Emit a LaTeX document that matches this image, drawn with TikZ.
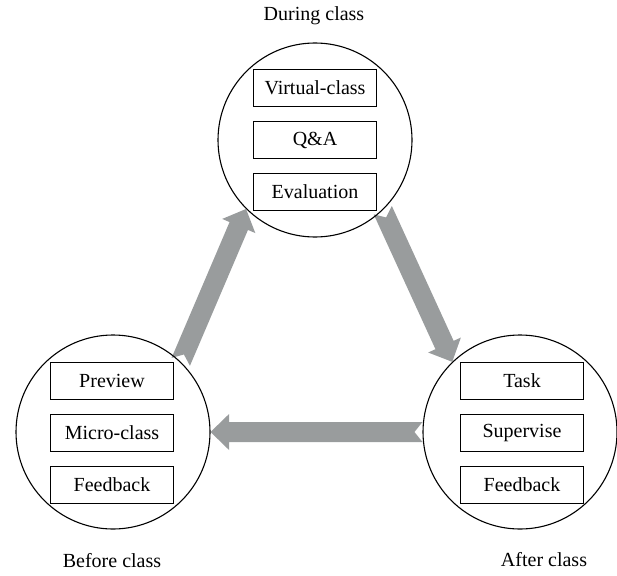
\documentclass[tikz,border=0pt]{standalone}
\usepackage{fontspec}
\setmainfont{Liberation Serif}
\usetikzlibrary{calc}
\definecolor{arrgray}{RGB}{153,156,157}
\pgfdeclarelayer{bg}
\pgfsetlayers{bg,main}
\tikzset{
 stage/.style={circle,draw,line width=1.1pt,minimum size=194pt,inner sep=0pt},
 item/.style={draw,line width=0.9pt,minimum width=123pt,minimum height=37pt,inner sep=0pt,font=\fontsize{20}{24}\selectfont},
 lbl/.style={anchor=base,font=\fontsize{20}{24}\selectfont},
 garrow/.style={fill=arrgray}
}
\newcommand\blockarr[2]{%
 \path ($(#2)!18.5pt!(#1)$) coordinate (hb);
 \fill[garrow] ($(#1)!10pt!90:(#2)$) -- ($(hb)!10pt!90:(#2)$) -- ($(hb)!18pt!90:(#2)$) -- (#2) -- ($(hb)!18pt!-90:(#2)$) -- ($(hb)!10pt!-90:(#2)$) -- ($(#1)!10pt!-90:(#2)$) -- ($(#1)!8pt!(#2)$) -- cycle;}
\begin{document}
\begin{tikzpicture}[x=1pt,y=-1pt]
\useasboundingbox (0,0) rectangle (617,575);
% stages
\node[stage] (t) at (315,140) {};
\node[stage] (l) at (113,432) {};
\node[stage] (r) at (520,432) {};
% items
\node[item] (t1) at (315,88) {Virtual-class};
\node[item] (t2) at (315,140) {Q\&A};
\node[item] (t3) at (315,192) {Evaluation};
\node[item] (l1) at (112,381) {Preview};
\node[item] (l2) at (112,433) {Micro-class};
\node[item] (l3) at (112,485) {Feedback};
\node[item] (r1) at (522,381) {Task};
\node[item] (r2) at (522,433) {Supervise};
\node[item] (r3) at (522,485) {Feedback};
% labels
\node[lbl] (tl) at (314,21) {During class};
\node[lbl] (ll) at (112,567) {Before class};
\node[lbl] (rl) at (544,566) {After class};
% arrows
\begin{pgfonlayer}{bg}
\blockarr{l.46}{t.225}
\blockarr{t.314}{r.134}
\blockarr{r.180}{l.0}
\end{pgfonlayer}
\end{tikzpicture}
\end{document}
